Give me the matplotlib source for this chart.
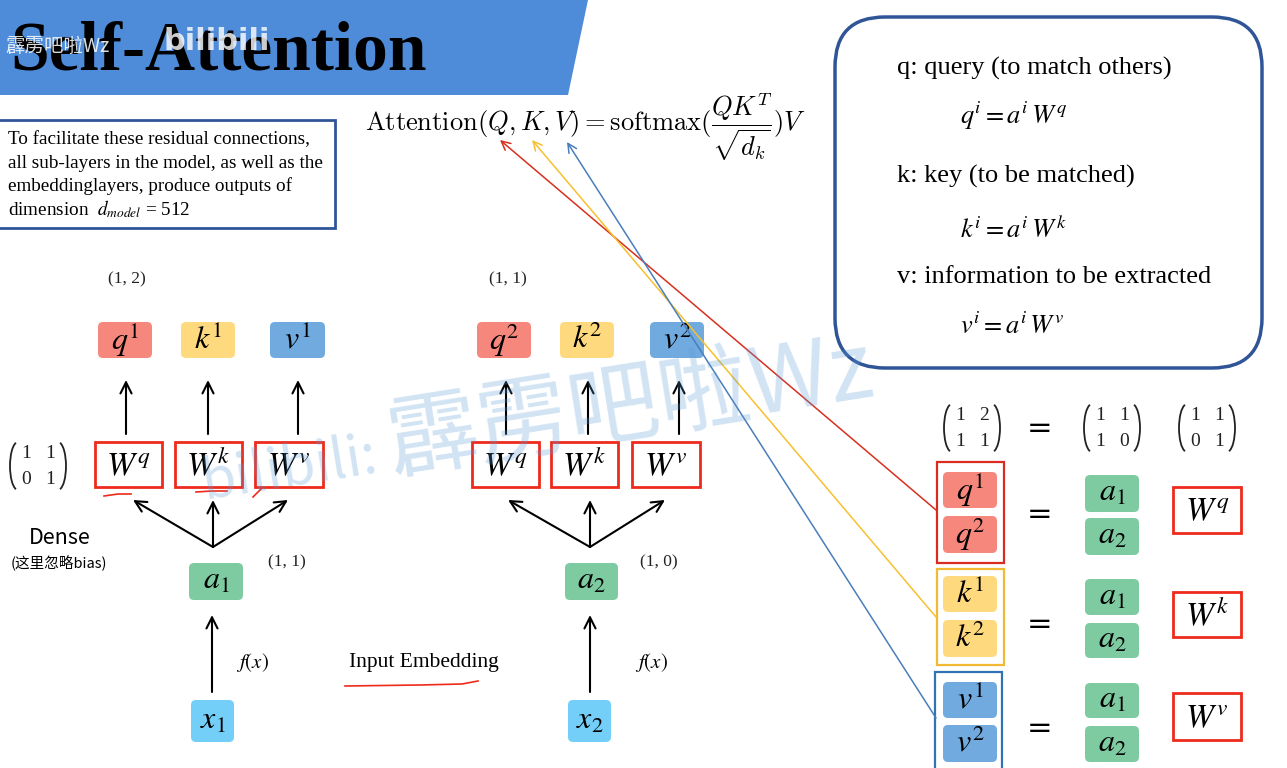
import matplotlib
matplotlib.use('Agg')
import matplotlib.pyplot as plt
from matplotlib.patches import FancyBboxPatch, Rectangle, Polygon, Arc, FancyArrowPatch

plt.rcParams['font.family'] = ['Liberation Serif', 'DejaVu Serif']
plt.rcParams['mathtext.fontset'] = 'stix'

# ---- content of the slide ----
title = 'Self-Attention'
note_lines = ['To facilitate these residual connections,',
              'all sub-layers in the model, as well as the',
              'embeddinglayers, produce outputs of',
              r'dimension  $d_{model}$ = 512']
role_desc = ['q: query (to match others)', 'k: key (to be matched)',
             'v: information to be extracted']
role_eqs = [r'$q^i = a^i\,W^q$', r'$k^i = a^i\,W^k$', r'$v^i = a^i\,W^v$']
roles = ['q', 'k', 'v']
tokens = [r'$x_1$', r'$x_2$']
embeds = [r'$a_1$', r'$a_2$']
embed_vals = ['(1, 1)', '(1, 0)']
query_vals = ['(1, 2)', '(1, 1)']
W_q = [[1, 1], [0, 1]]
A = [[1, 1], [1, 0]]
Q = [[1, 2], [1, 1]]

C_Q, C_K, C_V = '#F5877C', '#FFD97D', '#70AADF'
C_A, C_X = '#7ECBA2', '#73CFF8'
RED = '#EE2A1C'
NAVY = '#2F5597'
CJK = ['Noto Sans CJK SC', 'DejaVu Sans']

fig = plt.figure(figsize=(12.87, 7.68), dpi=100)
ax = fig.add_axes([0, 0, 1, 1])
ax.set_xlim(0, 1287)
ax.set_ylim(768, 0)
ax.axis('off')


def node(x0, y0, x1, y1, color, label, fs=23):
    ax.add_patch(FancyBboxPatch((x0, y0), x1 - x0, y1 - y0,
                                boxstyle='round,pad=0,rounding_size=5',
                                fc=color, ec='none', zorder=2))
    ax.text((x0 + x1) / 2, (y0 + y1) / 2, label, ha='center', va='center',
            fontsize=fs, zorder=3)


def wbox(x0, y0, x1, y1, role, fs=24):
    ax.add_patch(Rectangle((x0, y0), x1 - x0, y1 - y0, fc='white', ec=RED,
                           lw=2.0, zorder=2))
    ax.text((x0 + x1) / 2, (y0 + y1) / 2 + 2, r'$W^{%s}$' % role,
            ha='center', va='center', fontsize=fs, zorder=3)


def arrow(p0, p1, color='black', lw=1.5, ms=20):
    ax.add_patch(FancyArrowPatch(p0, p1, arrowstyle='->', mutation_scale=ms,
                                 color=color, lw=lw, shrinkA=0, shrinkB=0,
                                 zorder=4))


def matrix(cx, cy, m, w=56, h=48, fs=14):
    for i in range(2):
        for j in range(2):
            ax.text(cx + (j - 0.5) * 24, cy + (i - 0.5) * 26, str(m[i][j]),
                    ha='center', va='center', fontsize=fs, color='#222222')
    ax.add_patch(Arc((cx - w / 2 + 8, cy), 16, h, theta1=95, theta2=265,
                     lw=1.3, color='#222222'))
    ax.add_patch(Arc((cx + w / 2 - 8, cy), 16, h, theta1=-85, theta2=85,
                     lw=1.3, color='#222222'))


# ---- title banner ----
ax.add_patch(Polygon([(0, 0), (588, 0), (568, 95), (0, 95)], closed=True,
                     fc='#4E8CD9', ec='none', zorder=1))
ax.text(10, 70, title, fontsize=50, fontweight='bold', va='baseline',
        ha='left', zorder=3)
ax.text(5, 52, '霹雳吧啦Wz', fontsize=14, color='white', alpha=0.85,
        family=CJK, va='baseline', zorder=5)
ax.text(163, 50, 'bilibili', fontsize=22, color='white', alpha=0.8,
        fontweight='bold', family='DejaVu Sans', va='baseline', zorder=5)

# ---- note box ----
ax.add_patch(Rectangle((-2, 120), 337, 108, fc='white', ec=NAVY, lw=2,
                       zorder=2))
for i, line in enumerate(note_lines):
    ax.text(8, 140 + i * 23, line, fontsize=13.8, va='center', ha='left',
            zorder=3)

# ---- attention formula ----
ax.text(365, 127, r'$\mathrm{Attention}(Q,K,V)=\mathrm{softmax}(\dfrac{QK^T}{\sqrt{d_k}})V$',
        fontsize=19, math_fontfamily='cm', ha='left', va='center', zorder=3)

# ---- q/k/v description box ----
ax.add_patch(FancyBboxPatch((835, 17), 427, 351,
                            boxstyle='round,pad=0,rounding_size=50',
                            fc='white', ec=NAVY, lw=2.5, zorder=1))
desc_y = [68, 176, 277]
eq_y = [116, 230, 326]
for d, e, yd, ye in zip(role_desc, role_eqs, desc_y, eq_y):
    ax.text(897, yd, d, fontsize=19, va='center', ha='left', zorder=3)
    ax.text(960, ye, e, fontsize=19, va='center', ha='left', zorder=3)

# ---- two token columns ----
cols = [
    dict(qkv=[(98, 152), (181, 235), (270, 325)],
         w=[(95, 162), (175, 242), (255, 323)],
         up=[126, 208, 298], fan=(213, 547), tips=[133, 213, 288],
         a=(189, 243), ax_=212, x=(191, 234), lab=127, aval=287, fx=252),
    dict(qkv=[(477, 531), (560, 614), (650, 704)],
         w=[(472, 539), (551, 618), (632, 700)],
         up=[506, 588, 679], fan=(590, 547), tips=[508, 590, 665],
         a=(565, 618), ax_=590, x=(568, 611), lab=508, aval=659, fx=651),
]
colors = [C_Q, C_K, C_V]
for n, c in enumerate(cols):
    ax.text(c['lab'], 279, query_vals[n], fontsize=12.5, ha='center',
            va='center', color='#222222')
    for (x0, x1), col, r in zip(c['qkv'], colors, roles):
        node(x0, 322, x1, 358, col, r'$%s^{%d}$' % (r, n + 1))
    for xu in c['up']:
        arrow((xu, 434), (xu, 380))
    for (x0, x1), r in zip(c['w'], roles):
        wbox(x0, 442, x1, 487, r)
    for xt in c['tips']:
        arrow(c['fan'], (xt, 500))
    node(c['a'][0], 563, c['a'][1], 600, C_A, embeds[n])
    ax.text(c['aval'], 562, embed_vals[n], fontsize=12.5, ha='center',
            va='center', color='#222222')
    arrow((c['ax_'], 692), (c['ax_'], 615))
    ax.text(c['fx'], 663, r'$f(x)$', fontsize=15, ha='center', va='center')
    node(c['x'][0], 700, c['x'][1], 742, C_X, tokens[n])

matrix(38, 466, W_q)
ax.text(60, 538, 'Dense', fontsize=15.5, ha='center', va='center',
        family=CJK)
ax.text(59, 563, '(这里忽略bias)', fontsize=10.5, ha='center', va='center',
        family=CJK)
ax.text(424, 663, 'Input Embedding', fontsize=15.5, ha='center',
        va='center')

# hand-drawn red pen marks
ax.plot([104, 118, 131], [496, 494, 494], color=RED, lw=1.2)
ax.plot([196, 212, 227], [492, 491, 491], color=RED, lw=1.2)
ax.plot([253, 262], [497, 488], color=RED, lw=1.2)
ax.plot([345, 420, 462, 478], [686, 685, 684, 681], color=RED, lw=1.2)

# ---- matrix form on the right ----
matrix(972, 428, Q)
ax.text(1040, 428, '=', fontsize=22, ha='center', va='center',
        family='DejaVu Sans')
matrix(1112, 428, A)
matrix(1207, 428, W_q)

groups = [
    dict(box=(937, 462, 1004, 563), ec='#D92B20', col=C_Q, r='q',
         n=[(472, 508), (516, 553)], a=[(475, 512), (518, 555)],
         w=(487, 533), eq=515, end=(936, 510)),
    dict(box=(937, 569, 1004, 665), ec='#F2B935', col=C_K, r='k',
         n=[(576, 612), (620, 657)], a=[(579, 615), (623, 658)],
         w=(592, 637), eq=625, end=(936, 617)),
    dict(box=(935, 672, 1002, 772), ec='#2E74B5', col=C_V, r='v',
         n=[(682, 718), (725, 762)], a=[(683, 718), (726, 762)],
         w=(693, 740), eq=728, end=(936, 718)),
]
targets = [(500, 140), (532, 140), (567, 142)]
line_cols = ['#D7301F', '#F6C02F', '#4A7EBB']
for g, tgt, lc in zip(groups, targets, line_cols):
    x0, y0, x1, y1 = g['box']
    ax.add_patch(Rectangle((x0, y0), x1 - x0, y1 - y0, fc='white',
                           ec=g['ec'], lw=1.6, zorder=1))
    for k, (ny0, ny1) in enumerate(g['n']):
        node(943, ny0, 997, ny1, g['col'], r'$%s^{%d}$' % (g['r'], k + 1))
    ax.text(1040, g['eq'], '=', fontsize=22, ha='center', va='center',
            family='DejaVu Sans')
    for k, (ay0, ay1) in enumerate(g['a']):
        node(1085, ay0, 1139, ay1, C_A, embeds[k])
    wbox(1173, g['w'][0], 1241, g['w'][1], g['r'])
    arrow(g['end'], tgt, color=lc, lw=1.1, ms=16)

# ---- watermark ----
wm = dict(rotation=9, rotation_mode='anchor', ha='left', va='baseline',
          color='#5B9BD5', alpha=0.28, family=CJK, zorder=6)
ax.text(205, 500, 'bilibili:', fontsize=40, **wm)
ax.text(392, 472, '霹雳吧啦Wz', fontsize=66, **wm)

fig.savefig('out.png', dpi=100)
